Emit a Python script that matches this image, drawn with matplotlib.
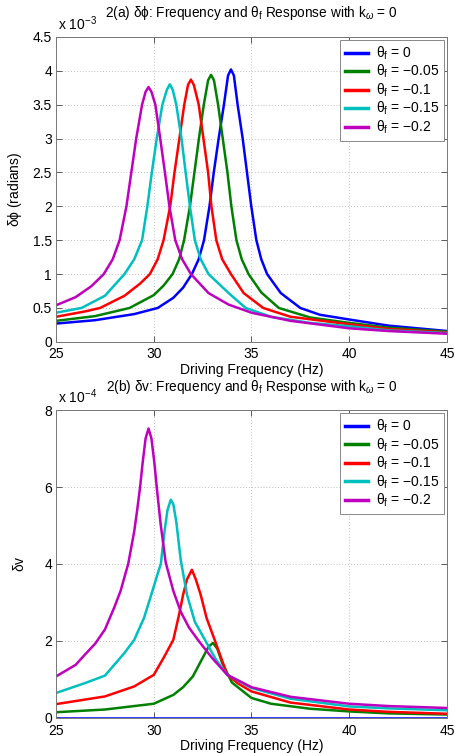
import matplotlib
matplotlib.use("Agg")
import matplotlib.pyplot as plt

plt.rcParams['font.family'] = ['Liberation Sans', 'DejaVu Sans']
plt.rcParams['mathtext.fontset'] = 'custom'
plt.rcParams['mathtext.rm'] = 'Liberation Sans'
plt.rcParams['mathtext.it'] = 'Liberation Sans:italic'
plt.rcParams['mathtext.bf'] = 'Liberation Sans:bold'

# ---- 2(a) delta phi, values in units of 1e-3 rad ----
fa_blue = [25, 27, 29, 30.2, 31.0, 31.5, 31.95, 32.3, 32.57, 32.85, 33.07, 33.32, 33.59, 33.8, 33.95,
           34.1, 34.29, 34.55, 34.77, 34.99, 35.25, 35.5, 35.8, 36.5, 37.5, 38.5, 40, 42, 45]
a_blue = [0.27, 0.32, 0.41, 0.50, 0.65, 0.80, 1.0, 1.22, 1.5, 2.0, 2.5, 3.0, 3.5, 3.93, 4.02,
          3.93, 3.5, 3.0, 2.5, 2.0, 1.5, 1.22, 1.0, 0.72, 0.50, 0.40, 0.33, 0.24, 0.16]

fa_green = [25, 27, 28.76, 30.0, 30.5, 30.96, 31.3, 31.55, 31.85, 32.08, 32.31, 32.56, 32.78, 32.93,
            33.08, 33.29, 33.53, 33.77, 33.97, 34.23, 34.5, 34.85, 35.5, 36.4, 38, 40, 42, 45]
a_green = [0.31, 0.38, 0.50, 0.69, 0.83, 1.0, 1.22, 1.5, 2.0, 2.5, 3.0, 3.5, 3.86, 3.94,
           3.86, 3.5, 3.0, 2.5, 2.0, 1.5, 1.22, 1.0, 0.73, 0.50, 0.36, 0.28, 0.21, 0.15]

fa_red = [25, 26.5, 27.25, 28.5, 29.3, 29.8, 30.2, 30.5, 30.84, 31.06, 31.31, 31.56, 31.75, 31.9,
          32.05, 32.3, 32.54, 32.78, 32.95, 33.2, 33.5, 33.95, 34.6, 35.6, 37, 40, 42, 45]
a_red = [0.37, 0.45, 0.50, 0.68, 0.86, 1.0, 1.22, 1.5, 2.0, 2.5, 3.0, 3.5, 3.79, 3.87,
         3.79, 3.5, 3.0, 2.5, 2.0, 1.5, 1.22, 1.0, 0.72, 0.50, 0.37, 0.26, 0.19, 0.14]

fa_cyan = [25, 26.3, 27.5, 28.5, 29.0, 29.4, 29.67, 29.9, 30.15, 30.44, 30.67, 30.82, 30.97, 31.15,
           31.42, 31.63, 31.85, 32.1, 32.4, 32.8, 33.83, 34.7, 36, 38, 40, 42, 45]
a_cyan = [0.43, 0.50, 0.68, 1.0, 1.22, 1.5, 2.0, 2.5, 3.0, 3.5, 3.72, 3.80, 3.72, 3.5,
          3.0, 2.5, 2.0, 1.5, 1.22, 1.0, 0.72, 0.50, 0.37, 0.28, 0.23, 0.17, 0.13]

fa_mag = [25, 26, 26.8, 27.44, 27.9, 28.25, 28.6, 28.85, 29.1, 29.4, 29.58, 29.73, 29.88, 30.08,
          30.33, 30.57, 30.8, 31.1, 31.45, 31.9, 32.8, 33.83, 35, 37, 40, 42, 45]
a_mag = [0.54, 0.66, 0.82, 1.0, 1.22, 1.5, 2.0, 2.5, 3.0, 3.5, 3.69, 3.76, 3.69, 3.5,
         3.0, 2.5, 2.0, 1.5, 1.22, 1.0, 0.72, 0.55, 0.43, 0.31, 0.20, 0.16, 0.12]

# ---- 2(b) delta v, values in units of 1e-4 ----
fb_blue = [25, 45]
b_blue = [0.0, 0.0]

fb_green = [25, 27.5, 30, 31, 31.5, 32, 32.5, 32.8, 33.03, 33.25, 33.5, 34, 35, 36, 38, 40, 42, 45]
b_green = [0.15, 0.22, 0.37, 0.60, 0.80, 1.08, 1.56, 1.85, 1.95, 1.80, 1.43, 0.92, 0.52, 0.37,
           0.24, 0.17, 0.12, 0.09]

fb_red = [25, 27.5, 29, 30, 30.5, 31, 31.3, 31.5, 31.7, 31.95, 32.15, 32.4, 32.7, 33.1, 33.76,
          34.3, 35, 37, 40, 42, 45]
b_red = [0.36, 0.56, 0.82, 1.12, 1.56, 2.03, 2.7, 3.2, 3.6, 3.85, 3.6, 3.2, 2.6, 2.05, 1.12,
         0.90, 0.69, 0.40, 0.22, 0.16, 0.11]

fb_cyan = [25, 26.5, 27.5, 28.5, 29.0, 29.5, 29.9, 30.2, 30.36, 30.55, 30.7, 30.87, 31.0, 31.15,
           31.38, 31.7, 32.1, 32.65, 33.2, 33.76, 35, 37, 40, 42, 45]
b_cyan = [0.65, 0.91, 1.10, 1.69, 2.03, 2.6, 3.25, 3.75, 4.0, 4.85, 5.4, 5.67, 5.55, 5.1,
          4.1, 3.2, 2.5, 2.0, 1.5, 1.12, 0.78, 0.50, 0.30, 0.25, 0.20]

fb_mag = [25, 26, 26.5, 27, 27.5, 28, 28.3, 28.69, 29.0, 29.15, 29.3, 29.43, 29.58, 29.73,
          29.88, 30.03, 30.15, 30.35, 30.61, 31.0, 31.38, 31.8, 32.3, 33, 33.76, 35, 37, 40, 42, 45]
b_mag = [1.08, 1.38, 1.66, 1.93, 2.3, 2.9, 3.3, 4.0, 4.85, 5.4, 6.0, 6.63, 7.26, 7.52,
         7.26, 6.63, 6.0, 5.04, 4.04, 3.3, 2.76, 2.35, 2.0, 1.55, 1.12, 0.80, 0.55, 0.37, 0.31, 0.26]

theta_vals = ["0", "\u22120.05", "\u22120.1", "\u22120.15", "\u22120.2"]
labels = [r"$\mathrm{\theta_f}$ = " + v for v in theta_vals]
colors = [(0, 0, 1), (0, 0.5, 0), (1, 0, 0), (0, 0.75, 0.75), (0.75, 0, 0.75)]

fig = plt.figure(figsize=(4.56, 7.53), dpi=100)
ax1 = fig.add_axes([0.123, 0.546, 0.857, 0.405])
ax2 = fig.add_axes([0.123, 0.0465, 0.857, 0.409])

def style(ax, ymax, yticks, yticklabels, exp):
    ax.set_xlim(25, 45)
    ax.set_ylim(0, ymax)
    ax.set_xticks([25, 30, 35, 40, 45])
    ax.set_yticks(yticks)
    ax.set_yticklabels(yticklabels)
    ax.tick_params(direction='in', top=True, right=True, length=4, width=0.6,
                   labelsize=10, colors='#444444', labelcolor='black', pad=3)
    ax.tick_params(axis='x', pad=4)
    ax.grid(True, linestyle=(0, (1, 2.5)), color='#aaaaaa', linewidth=0.6)
    for s in ax.spines.values():
        s.set_color('#777777')
        s.set_linewidth(0.7)
    ax.set_xlabel("Driving Frequency (Hz)", fontsize=10, labelpad=1)
    ax.text(0.005, 1.012, r"x 10$^{%s}$" % exp, transform=ax.transAxes, fontsize=10,
            ha='left', va='bottom')

data_a = [(fa_blue, a_blue), (fa_green, a_green), (fa_red, a_red), (fa_cyan, a_cyan), (fa_mag, a_mag)]
for (x, y), c, l in zip(data_a, colors, labels):
    ax1.plot(x, y, color=c, lw=1.8, label=l)
style(ax1, 4.5, [0, 0.5, 1, 1.5, 2, 2.5, 3, 3.5, 4, 4.5],
      ["0", "0.5", "1", "1.5", "2", "2.5", "3", "3.5", "4", "4.5"], "\u22123")
ax1.set_ylabel(r"$\mathrm{\delta\phi}$ (radians)", fontsize=10, labelpad=6)
ax1.set_title(r"2(a) $\mathrm{\delta\phi}$: Frequency and $\mathrm{\theta_f}$ Response with k$_\omega$ = 0",
              fontsize=9.8, pad=14)

data_b = [(fb_blue, b_blue), (fb_green, b_green), (fb_red, b_red), (fb_cyan, b_cyan), (fb_mag, b_mag)]
for (x, y), c, l in zip(data_b, colors, labels):
    ax2.plot(x, y, color=c, lw=1.8, label=l)
style(ax2, 8, [0, 2, 4, 6, 8], ["0", "2", "4", "6", "8"], "\u22124")
ax2.set_ylabel(r"$\mathrm{\delta}$v", fontsize=10, labelpad=12)
ax2.set_title(r"2(b) $\mathrm{\delta}$v: Frequency and $\mathrm{\theta_f}$ Response with k$_\omega$ = 0",
              fontsize=9.8, pad=14)

for ax in (ax1, ax2):
    leg = ax.legend(loc='upper right', fontsize=10, handlelength=1.7, handletextpad=0.55,
                    labelspacing=0.08, borderpad=0.35, fancybox=False, framealpha=1,
                    borderaxespad=0.2)
    leg.get_frame().set_edgecolor('#888888')
    leg.get_frame().set_linewidth(0.7)
    for h in leg.get_lines():
        h.set_linewidth(2.5)

fig.savefig("out.png", dpi=100)
